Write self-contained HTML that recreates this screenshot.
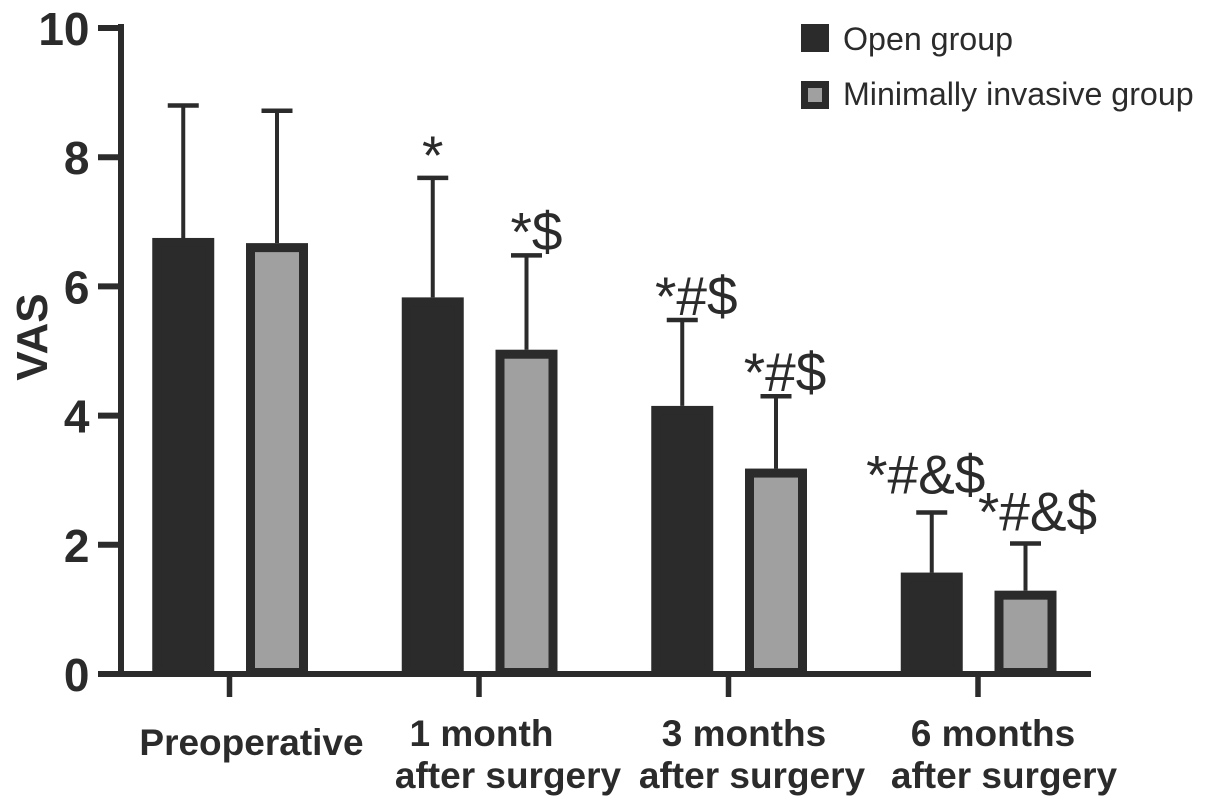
<!DOCTYPE html>
<html>
<head>
<meta charset="utf-8">
<style>
html,body{margin:0;padding:0;background:#fff;}
svg{display:block;}
text{font-family:"Liberation Sans",Arial,sans-serif;fill:#2b2b2b;}
</style>
</head>
<body>
<svg id="chart" width="1205" height="809" viewBox="0 0 1205 809" xmlns="http://www.w3.org/2000/svg"></svg>
<script>
const categories = [["Preoperative"], ["1 month", "after surgery"], ["3 months", "after surgery"], ["6 months", "after surgery"]];
const seriesNames = ["Open group", "Minimally invasive group"];
const openValues = [6.75, 5.83, 4.15, 1.57];
const minimalValues = [6.67, 5.02, 3.18, 1.29];
const openErrorTops = [8.8, 7.68, 5.48, 2.5];
const minimalErrorTops = [8.72, 6.48, 4.3, 2.02];
const openMarks = ["", "*", "*#$", "*#&$"];
const minimalMarks = ["", "*$", "*#$", "*#&$"];
const yTicks = [0, 2, 4, 6, 8, 10];
const yTitle = "VAS";

const svg = document.getElementById('chart');
const NS = 'http://www.w3.org/2000/svg';
const dark = '#2b2b2b';
const grey = '#a0a0a0';
function yScale(v) { return 674 - v * 64.6; }
function groupCenter(i) { return 229.5 + i * 249.5; }
function make(tag, attrs, text) {
  const el = document.createElementNS(NS, tag);
  for (const k in attrs) el.setAttribute(k, attrs[k]);
  if (text !== undefined) el.textContent = text;
  svg.appendChild(el);
  return el;
}
function drawBar(cx, value, errTop, fill, seriesKey, i) {
  const stem = make('line', {x1: cx, x2: cx, y1: yScale(value), y2: yScale(errTop), stroke: dark, 'stroke-width': 4});
  
  
  const cap = make('line', {x1: cx - 15.5, x2: cx + 15.5, y1: yScale(errTop), y2: yScale(errTop), stroke: dark, 'stroke-width': 4.5});
  
  
  const bar = make('rect', {x: cx - 26.5, y: yScale(value) + 4.5, width: 53, height: 672.5 - yScale(value) - 4.5, fill: fill, stroke: dark, 'stroke-width': 9});
  
  
}
function drawMark(cx, errTop, label, seriesKey, i) {
  if (!label) return;
  const nudgeX = seriesKey === 'open' ? [0, 0, 14, -6][i] : [0, 10, 9, 12][i];
  const nudgeY = seriesKey === 'open' ? [0, -4, -5, -19][i] : [0, -5, -5, -13][i];
  const t = make('text', {x: cx + nudgeX, y: yScale(errTop) + nudgeY, 'text-anchor': 'middle', 'font-size': 55}, label);
  
  
}
categories.forEach(function (lines, i) {
  const c = groupCenter(i);
  drawBar(c - 46.25, openValues[i], openErrorTops[i], dark, 'open', i);
  drawBar(c + 47.5, minimalValues[i], minimalErrorTops[i], grey, 'minimal', i);
});
const yAxis = make('line', {x1: 121, x2: 121, y1: 24, y2: 677, stroke: dark, 'stroke-width': 6});


const xAxis = make('line', {x1: 98, x2: 1091, y1: 674, y2: 674, stroke: dark, 'stroke-width': 6});


yTicks.forEach(function (v) {
  const y = yScale(v);
  const tick = make('line', {x1: 98, x2: 121, y1: y, y2: y, stroke: dark, 'stroke-width': 6});
  
  
  const label = make('text', {x: 89.5, y: y + 17, 'text-anchor': 'end', 'font-size': 46, 'font-weight': 'bold'}, String(v));
  
  
});
categories.forEach(function (lines, i) {
  const c = groupCenter(i);
  const tick = make('line', {x1: c, x2: c, y1: 674, y2: 697, stroke: dark, 'stroke-width': 5.5});
  
  
  const firstLineShift = [22, 2.5, 15.5, 15][i];
  const secondLineShift = [0, 29, 23.5, 26][i];
  lines.forEach(function (line, j) {
    const ty = lines.length === 1 ? 755 : 746 + j * 42;
    const tx = c + (j === 0 ? firstLineShift : secondLineShift);
    const t = make('text', {x: tx, y: ty, 'text-anchor': 'middle', 'font-size': 37, 'font-weight': 'bold'}, line);
    
    
  });
  drawMark(c - 46.25, openErrorTops[i], openMarks[i], 'open', i);
  drawMark(c + 47.5, minimalErrorTops[i], minimalMarks[i], 'minimal', i);
});
const ttl = make('text', {x: 0, y: 0, transform: 'translate(47,337) rotate(-90)', 'text-anchor': 'middle', 'font-size': 44, 'font-weight': 'bold'}, yTitle);


const swatchFills = [dark, grey];
seriesNames.forEach(function (name, i) {
  const cy = 38 + i * 57;
  const s = make('rect', {x: 804.5, y: cy - 10.5, width: 21, height: 21, fill: swatchFills[i], stroke: dark, 'stroke-width': 7});
  
  
  const t = make('text', {x: 843, y: 50 + i * 55, 'font-size': 32.2}, name);
  
  
});
</script>
</body>
</html>
